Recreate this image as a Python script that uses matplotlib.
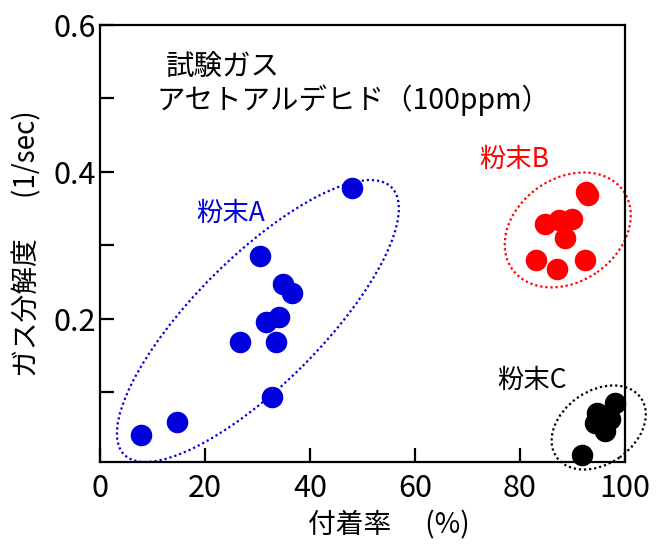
import matplotlib.pyplot as plt
import matplotlib.transforms as mtransforms
from matplotlib.patches import Ellipse

plt.rcParams["font.family"] = ["Noto Sans CJK JP", "DejaVu Sans"]

# 付着率 (%) と ガス分解度 (1/sec)
a_x = [7.9, 14.7, 32.7, 26.6, 33.5, 31.6, 34.1, 34.8, 36.6, 30.5, 48.0]
a_y = [0.042, 0.060, 0.094, 0.169, 0.169, 0.196, 0.203, 0.248, 0.235, 0.285, 0.378]

b_x = [92.6, 93.0, 84.8, 87.4, 90.0, 88.6, 83.0, 87.1, 92.4]
b_y = [0.373, 0.368, 0.329, 0.335, 0.336, 0.310, 0.280, 0.268, 0.280]

c_x = [91.9, 98.1, 94.6, 94.3, 96.2, 97.1]
c_y = [0.015, 0.085, 0.072, 0.058, 0.047, 0.063]

x_ticks = [0, 20, 40, 60, 80, 100]
y_ticks = [0.2, 0.4, 0.6]
y_minor = [0.1, 0.3, 0.5]

fig = plt.figure(figsize=(6.61, 5.44), dpi=100)
ax = fig.add_axes([0.151, 0.1507, 0.7945, 0.8033])

ax.plot(a_x, a_y, "o", color="#0000dd", ms=14.5, clip_on=False)
ax.plot(b_x, b_y, "o", color="#ff0000", ms=14.5, clip_on=False)
ax.plot(c_x, c_y, "o", color="black", ms=14.5, clip_on=False)


def ring(cx, cy, w, h, ang, col):
    # 楕円の大きさはインチ単位、中心はデータ座標
    tr = fig.dpi_scale_trans + mtransforms.ScaledTranslation(cx, cy, ax.transData)
    e = Ellipse((0, 0), w, h, angle=ang, transform=tr, fill=False,
                edgecolor=col, lw=1.6, linestyle=(0, (1, 1.3)), clip_on=False)
    ax.add_patch(e)


ring(30.1, 0.197, 3.78, 1.27, 45, "#0000dd")
ring(89.1, 0.321, 1.36, 1.03, 35, "#ff0000")
ring(95.0, 0.052, 1.03, 0.73, 35, "black")

ax.text(12.5, 0.542, "試験ガス", fontsize=20.5, va="center")
ax.text(10.8, 0.497, "アセトアルデヒド（100ppm）", fontsize=20.5, va="center")
ax.text(18.3, 0.344, "粉末A", fontsize=19, color="#0000dd", va="center")
ax.text(72.2, 0.417, "粉末B", fontsize=19, color="#ff0000", va="center")
ax.text(75.6, 0.116, "粉末C", fontsize=19, color="black", va="center")

ax.set_xlim(0, 100)
ax.set_ylim(0.005, 0.6)
ax.set_xticks(x_ticks)
ax.set_yticks(y_ticks)
ax.set_yticks(y_minor, minor=True)
ax.set_yticklabels(["0.2", "0.4", "0.6"])
ax.tick_params(direction="in", length=10, width=1.6, labelsize=22)
ax.tick_params(axis="x", pad=8)
ax.tick_params(axis="y", pad=2.5)
ax.tick_params(which="minor", direction="in", length=10, width=1.6)
for s in ax.spines.values():
    s.set_linewidth(1.6)

ax.set_xlabel("付着率　 (%)", fontsize=20, va="center")
ax.xaxis.set_label_coords(0.55, -0.146)
ax.set_ylabel("ガス分解度　  (1/sec)", fontsize=20, va="center")
ax.yaxis.set_label_coords(-0.137, 0.5)

fig.savefig("out.png", dpi=100)
